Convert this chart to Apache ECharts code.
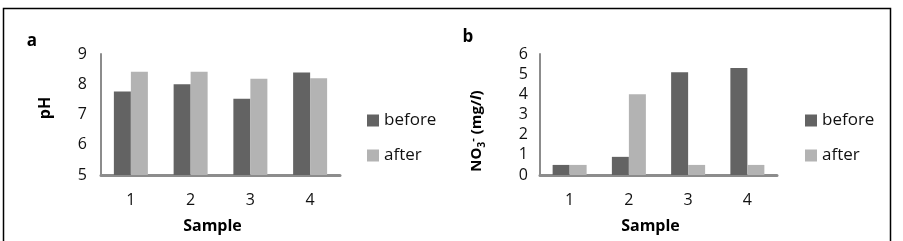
<!DOCTYPE html>
<html><head><meta charset="utf-8">
<script src="https://cdn.jsdelivr.net/npm/echarts@6/dist/echarts.min.js"></script>
<style>html,body{margin:0;padding:0;background:#fff}#c{width:903px;height:241px}</style>
</head><body><div id="c"></div>
<script>
const categories = ['1', '2', '3', '4'];
const phBefore = [7.76, 8.0, 7.52, 8.39];
const phAfter = [8.41, 8.41, 8.18, 8.2];
const no3Before = [0.5, 0.9, 5.1, 5.3];
const no3After = [0.5, 4.0, 0.5, 0.5];
const seriesNames = ['before', 'after'];
const xTitle = 'Sample';

const FONT = 'Open Sans';
const DARK = '#636363', LIGHT = '#b3b3b3', AXIS = '#8c8c8c';
const chart = echarts.init(document.getElementById('c'), null, {renderer: 'canvas'});

function xAxis(gi) {
  return {
    type: 'category', gridIndex: gi, data: categories,
    axisLine: {lineStyle: {color: AXIS, width: 3}},
    axisTick: {show: false},
    axisLabel: {color: '#111', fontFamily: FONT, fontSize: 16, margin: 17},
    name: xTitle, nameLocation: 'middle', nameGap: 43,
    nameTextStyle: {color: '#000', fontFamily: FONT, fontSize: 16, fontWeight: 'bold', padding: [0, 16, 0, 0]}
  };
}
function yAxis(gi, min, max, margin) {
  return {
    type: 'value', gridIndex: gi, min: min, max: max, interval: 1,
    axisLine: {show: true, lineStyle: {color: AXIS, width: 2}},
    axisTick: {show: false}, splitLine: {show: false},
    axisLabel: {color: '#111', fontFamily: FONT, fontSize: 16, margin: margin}
  };
}
function bar(name, data, gi, color) {
  return {
    type: 'bar', name: name, data: data, xAxisIndex: gi, yAxisIndex: gi,
    barWidth: 17, barGap: '0%', itemStyle: {color: color}, animation: false
  };
}
function legend(left) {
  return {
    data: seriesNames, orient: 'vertical', left: left, top: 107,
    itemWidth: 12, itemHeight: 12, itemGap: 18, icon: 'rect',
    textStyle: {color: '#111', fontFamily: FONT, fontSize: 17}
  };
}

chart.setOption({
  animation: false,
  grid: [
    {left: 101, top: 54, width: 239, height: 121},
    {left: 540, top: 54, width: 237, height: 121}
  ],
  xAxis: [xAxis(0), xAxis(1)],
  yAxis: [yAxis(0, 5, 9, 14), yAxis(1, 0, 6, 12)],
  legend: [legend(362), legend(800)],
  series: [
    bar('before', phBefore, 0, DARK), bar('after', phAfter, 0, LIGHT),
    bar('before', no3Before, 1, DARK), bar('after', no3After, 1, LIGHT)
  ],
  graphic: [
    {type: 'rect', shape: {x: 3.5, y: 8.5, width: 887, height: 260}, style: {fill: 'none', stroke: '#000', lineWidth: 1.5}, silent: true},
    {type: 'text', x: 32, y: 41, style: {text: 'a', font: 'bold 17px "' + FONT + '"', fill: '#000', textAlign: 'center', textVerticalAlign: 'middle'}},
    {type: 'text', x: 468, y: 37, style: {text: 'b', font: 'bold 17px "' + FONT + '"', fill: '#000', textAlign: 'center', textVerticalAlign: 'middle'}},
    {type: 'text', x: 45, y: 108, rotation: Math.PI / 2, style: {text: 'pH', font: 'bold 16px "' + FONT + '"', fill: '#000', textAlign: 'center', textVerticalAlign: 'middle'}},
    {type: 'text', x: 477, y: 131, rotation: Math.PI / 2,
      style: {
        text: '{n|NO}{sub|3}{sup|-}{n| (mg/}{i|l}{n|)}',
        textAlign: 'center', textVerticalAlign: 'middle', fill: '#000',
        rich: {
          n: {fontFamily: FONT, fontWeight: 'bold', fontSize: 15, lineHeight: 20},
          i: {fontFamily: FONT, fontWeight: 'bold', fontStyle: 'italic', fontSize: 15, lineHeight: 20},
          sub: {fontFamily: FONT, fontWeight: 'bold', fontSize: 10, lineHeight: 10, verticalAlign: 'bottom', padding: [8, 0, 0, 0]},
          sup: {fontFamily: FONT, fontWeight: 'bold', fontSize: 11, lineHeight: 11, verticalAlign: 'top', padding: [0, 0, 8, 0]}
        }
      }}
  ]
});
</script></body></html>
